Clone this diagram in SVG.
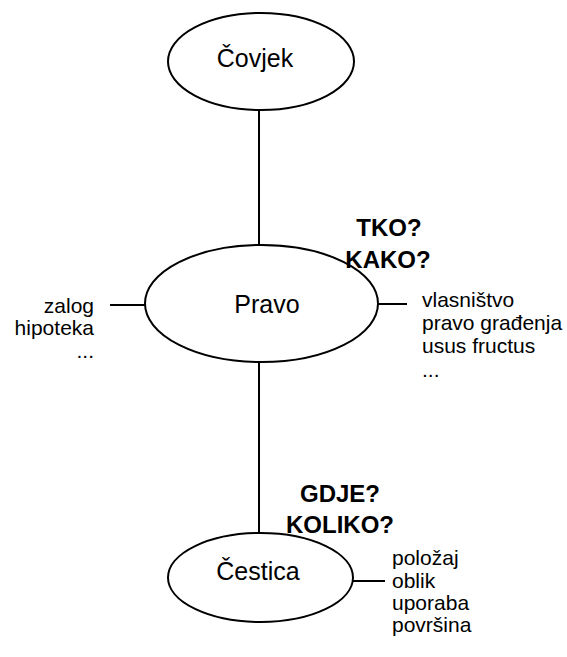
<svg xmlns="http://www.w3.org/2000/svg" width="567" height="657" viewBox="0 0 567 657">
  <style>
    .node { fill: #ffffff; stroke: #000000; stroke-width: 2; }
    .link { stroke: #000000; stroke-width: 2; fill: none; }
    .label { font-family: "Liberation Sans", Arial, sans-serif; font-size: 25px; fill: #000000; text-anchor: middle; }
    .note { font-family: "Liberation Sans", Arial, sans-serif; font-size: 21px; fill: #000000; }
    .ask { font-family: "Liberation Sans", Arial, sans-serif; font-size: 24px; font-weight: bold; fill: #000000; text-anchor: middle; }
  </style>
  <rect width="567" height="657" fill="#ffffff"/>

  <!-- connectors -->
  <g id="connectors">
    <line class="link" x1="259" y1="110" x2="259" y2="245"/>
    <line class="link" x1="259" y1="362" x2="259" y2="533"/>
    <line class="link" x1="110" y1="305" x2="145" y2="305"/>
    <line class="link" x1="378" y1="304" x2="407" y2="304"/>
    <line class="link" x1="353" y1="581" x2="385" y2="581"/>
  </g>

  <!-- nodes -->
  <g id="covjek">
    <ellipse class="node" cx="261" cy="61.5" rx="93" ry="48.5"/>
    <text class="label" x="255" y="67">Čovjek</text>
  </g>

  <g id="pravo">
    <ellipse class="node" cx="261.5" cy="303.5" rx="116.5" ry="58.5"/>
    <text class="label" x="267" y="313">Pravo</text>
  </g>

  <g id="cestica">
    <ellipse class="node" cx="260.5" cy="577.5" rx="92.5" ry="44.5"/>
    <text class="label" x="258" y="580">Čestica</text>
  </g>

  <!-- side notes -->
  <g id="pravo-left">
    <text class="note" text-anchor="end" x="94" y="313">zalog</text>
    <text class="note" text-anchor="end" x="94" y="335">hipoteka</text>
    <text class="note" text-anchor="end" x="94" y="358">...</text>
  </g>

  <g id="pravo-right">
    <text class="note" x="422" y="307">vlasništvo</text>
    <text class="note" x="422" y="330">pravo građenja</text>
    <text class="note" x="422" y="353">usus fructus</text>
    <text class="note" x="422" y="377">...</text>
  </g>

  <g id="cestica-right">
    <text class="note" x="392" y="565">položaj</text>
    <text class="note" x="392" y="588">oblik</text>
    <text class="note" x="392" y="610">uporaba</text>
    <text class="note" x="392" y="632">površina</text>
  </g>

  <!-- questions -->
  <g id="tko-kako">
    <text class="ask" x="389" y="236">TKO?</text>
    <text class="ask" x="388" y="268">KAKO?</text>
  </g>

  <g id="gdje-koliko">
    <text class="ask" x="340" y="502">GDJE?</text>
    <text class="ask" x="340" y="533">KOLIKO?</text>
  </g>
</svg>
